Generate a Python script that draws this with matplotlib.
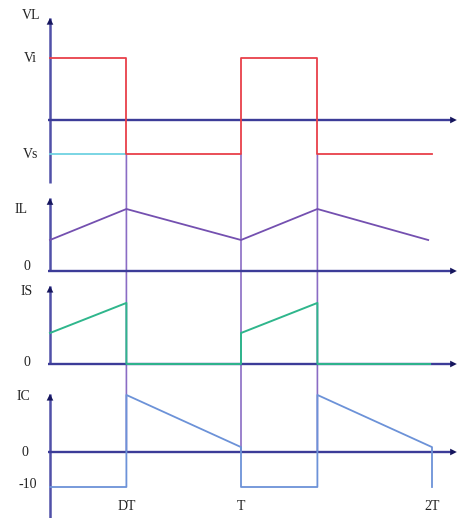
import matplotlib
matplotlib.use("Agg")
import matplotlib.pyplot as plt
from matplotlib.patches import ConnectionPatch

# ---------------- data (time in units of T) ----------------
DT = 0.4
T = 1.0
t_vl = [0, DT, DT, T, T, T + DT, T + DT, 2 * T]
vl = [1.0, 1.0, -0.55, -0.55, 1.0, 1.0, -0.55, -0.55]
t_vs_ref = [0, DT]
vs_ref = [-0.55, -0.55]
Vi, Vs = 1.0, -0.55

t_il = [0, DT, T, T + DT, 1.98]
il = [1.0, 2.0, 1.0, 2.0, 1.0]

t_is = [0, DT, DT, T, T, T + DT, T + DT, 1.99]
i_s = [1.0, 1.97, 0, 0, 1.0, 1.97, 0, 0]

t_ic = [0, DT, DT, T, T, T + DT, T + DT, 2 * T, 2 * T]
ic = [-10, -10, 16.3, 1.4, -10, -10, 16.3, 1.4, -10]

guide_t = [DT, T, T + DT]
time_ticks = [DT, T, 2 * T]
time_labels = ["DT", "T", "2T"]

# ---------------- style ----------------
W, H = 465, 518
PX0, PXT = 50, 191
NAVY = "#3c3c98"
VAX = "#5050a8"
HEAD = "#16165e"
RED = "#e8404a"
CYAN = "#70d2e2"
PURPLE = "#7450b0"
GUIDE = "#8a6cc4"
GREEN = "#2fb68c"
BLUE = "#6c92d8"
FONT = dict(family="Liberation Serif", fontsize=10, color="#222222")

fig = plt.figure(figsize=(W / 100, H / 100), dpi=100)


def panel(top, bottom, zero, unit):
    ax = fig.add_axes([0, 1 - bottom / H, 1, (bottom - top) / H])
    ax.set_xlim(-PX0 / PXT, (W - PX0) / PXT)
    ax.set_ylim((zero - bottom) / unit, (zero - top) / unit)
    ax.axis("off")
    ax.patch.set_visible(False)
    return ax


def axes_arrows(ax, ybot, ytop, xtip=2.11):
    ax.plot([0, 0], [ybot, ytop], color=VAX, lw=1.8, zorder=2,
            solid_capstyle="butt", clip_on=False)
    ax.annotate("", xy=(0, ytop), xytext=(0, ytop - 0.001 * (ytop - ybot)),
                arrowprops=dict(arrowstyle="-|>", color=HEAD, lw=0,
                                mutation_scale=12, shrinkA=0, shrinkB=0),
                annotation_clip=False)
    ax.plot([-0.01, xtip], [0, 0], color=NAVY, lw=1.7, zorder=2,
            solid_capstyle="butt", clip_on=False)
    ax.annotate("", xy=(xtip + 0.02, 0), xytext=(xtip, 0),
                arrowprops=dict(arrowstyle="-|>", color=HEAD, lw=0,
                                mutation_scale=12, shrinkA=0, shrinkB=0),
                annotation_clip=False)


def label(ax, text, xy, off):
    ax.annotate(text, xy=xy, xytext=off, textcoords="offset pixels",
                ha="center", va="center", annotation_clip=False, **FONT)


# VL panel
ax_vl = panel(0, 188, 120, 62)
axes_arrows(ax_vl, -1.016, 1.645)
ax_vl.plot(t_vs_ref, vs_ref, color=CYAN, lw=1.3, zorder=3, clip_on=False)
ax_vl.plot(t_vl, vl, color=RED, lw=1.3, zorder=4, clip_on=False)
label(ax_vl, "VL", (0, 1.645), (-19, 3))
label(ax_vl, "Vi", (0, Vi), (-20, 0))
label(ax_vl, "Vs", (0, Vs), (-19, 0))

# IL panel
ax_il = panel(188, 278, 271, 31)
axes_arrows(ax_il, 0, 2.35)
ax_il.plot(t_il, il, color=PURPLE, lw=1.3, zorder=3, clip_on=False)
label(ax_il, "IL", (0, 2.35), (-29, -11))
label(ax_il, "0", (0, 0), (-23, 5))

# IS panel
ax_is = panel(278, 372, 364, 31)
axes_arrows(ax_is, 0, 2.52)
ax_is.plot(t_is, i_s, color=GREEN, lw=1.4, zorder=3, clip_on=False)
label(ax_is, "IS", (0, 2.52), (-23, -6))
label(ax_is, "0", (0, 0), (-23, 2))

# IC panel
ax_ic = panel(372, 518, 452, 3.5)
axes_arrows(ax_ic, -18.9, 16.6)
ax_ic.plot(t_ic, ic, color=BLUE, lw=1.3, zorder=3, clip_on=False)
label(ax_ic, "IC", (0, 16.6), (-27, -3))
label(ax_ic, "0", (0, 0), (-25, -1))
label(ax_ic, "-10", (0, -10), (-22, 2))
for tt, txt in zip(time_ticks, time_labels):
    label(ax_ic, txt, (tt, -10), (0, -20))

# vertical guide lines spanning the panels
for tt in guide_t:
    cp = ConnectionPatch(xyA=(tt, Vs), coordsA=ax_vl.transData,
                         xyB=(tt, 0), coordsB=ax_ic.transData,
                         color=GUIDE, lw=1.2, zorder=-1)
    fig.add_artist(cp)

fig.savefig("out.png", dpi=100, facecolor="white")
